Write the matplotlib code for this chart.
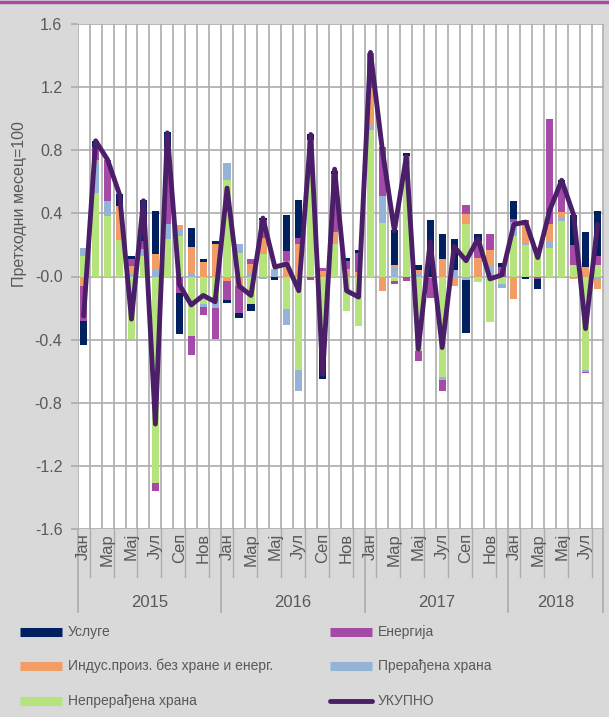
import numpy as np
import matplotlib
matplotlib.use("Agg")
import matplotlib.pyplot as plt
from matplotlib.lines import Line2D
import matplotlib.transforms as mtransforms

plt.rcParams['font.family'] = ['Liberation Sans', 'DejaVu Sans']

# ---------------- data ----------------
years = ["2015", "2016", "2017", "2018"]
months_per_year = [12, 12, 12, 8]
month_names = ["Јан", "Феб", "Мар", "Апр", "Мај", "Јун", "Јул", "Авг", "Сеп", "Окт", "Нов", "Дец"]

usluge = [-0.154, 0.035, 0.0, 0.078, 0.017, 0.254, 0.271, 0.095, -0.258, 0.123, 0.021, 0.017,
          -0.015, -0.032, -0.042, 0.017, -0.02, 0.226, 0.237, 0.04, -0.30, 0.02, 0.021, 0.017,
          0.005, -0.006, 0.222, 0.015, 0.028, 0.356, 0.159, 0.195, -0.338, 0.046, 0.0, 0.025,
          0.112, -0.015, -0.061, 0.0, 0.015, 0.19, 0.222, 0.279]
energija = [-0.216, 0.08, 0.265, 0.0, 0.047, 0.053, -0.053, 0.487, -0.106, -0.123, -0.047, -0.197,
            -0.12, -0.169, 0.032, 0.11, 0.0, 0.063, 0.038, -0.025, 0.017, 0.37, 0.049, 0.121,
            0.222, 0.313, -0.017, -0.03, -0.063, -0.127, -0.068, 0.0, 0.053, 0.106, 0.102, 0.059,
            0.021, 0.01, -0.017, 0.667, 0.19, 0.127, -0.008, 0.063]
indus = [-0.063, 0.015, 0.0, 0.218, 0.047, 0.0, 0.102, 0.0, 0.032, 0.169, 0.091, 0.207,
         -0.03, -0.06, 0.063, 0.106, 0.0, 0.10, 0.207, 0.12, 0.038, 0.078, 0.049, 0.028,
         0.233, -0.089, 0.015, 0.05, 0.025, -0.01, 0.112, -0.06, 0.063, 0.116, 0.095, 0.0,
         -0.142, 0.133, 0.02, 0.116, 0.032, -0.017, 0.063, -0.057]
preradjena = [0.049, 0.197, 0.095, 0.0, 0.017, 0.042, 0.042, 0.095, 0.038, 0.017, -0.021, -0.072,
              0.106, 0.059, 0.017, -0.015, 0.045, -0.10, -0.135, 0.07, 0.0, 0.0, 0.0, 0.0,
              0.028, 0.169, 0.055, 0.0, 0.017, 0.0, -0.017, 0.04, -0.021, 0.0, 0.07, -0.025,
              0.091, 0.015, 0.0, 0.036, 0.027, 0.0, -0.013, -0.021]
neprer = [0.133, 0.529, 0.381, 0.229, -0.396, 0.133, -1.306, 0.239, 0.254, -0.375, -0.174, -0.127,
          0.614, 0.148, -0.174, 0.14, 0.0, -0.205, -0.593, 0.673, -0.35, 0.203, -0.22, -0.311,
          0.931, 0.339, -0.03, 0.715, -0.47, 0.0, -0.639, 0.0, 0.334, -0.036, -0.286, -0.047,
          0.254, 0.197, 0.165, 0.182, 0.349, 0.07, -0.593, 0.07]
ukupno = [-0.25, 0.86, 0.74, 0.52, -0.27, 0.48, -0.935, 0.91, -0.05, -0.18, -0.12, -0.16,
          0.56, -0.06, -0.12, 0.37, 0.06, 0.08, -0.09, 0.90, -0.62, 0.68, -0.09, -0.13,
          1.42, 0.80, 0.29, 0.76, -0.46, 0.22, -0.45, 0.19, 0.10, 0.24, -0.015, 0.01,
          0.33, 0.345, 0.12, 0.42, 0.61, 0.39, -0.33, 0.33]

series_names = ["Услуге", "Енергија", "Индус.произ. без хране и енерг.", "Прерађена храна", "Непрерађена храна"]
line_name = "УКУПНО"
colors = {"Услуге": "#002060", "Енергија": "#A64AA8", "Индус.произ. без хране и енерг.": "#F29C66",
          "Прерађена храна": "#95B3D7", "Непрерађена храна": "#B5E47C"}
line_color = "#4A1E68"

data = {"Услуге": usluge, "Енергија": energija, "Индус.произ. без хране и енерг.": indus,
        "Прерађена храна": preradjena, "Непрерађена храна": neprer}

# ---------------- figure ----------------
W, H = 609, 717
fig = plt.figure(figsize=(W / 100, H / 100), dpi=100, facecolor="#D9D9D9")
L, R, T, B = 77.7, 603.5, 24, 529
ax = fig.add_axes([L / W, 1 - B / H, (R - L) / W, (B - T) / H])
ax.set_facecolor("white")

n = sum(months_per_year)
x = np.arange(n)
grid_c = "#ACACAC"
txt_c = "#595959"

# stacking order from the zero line outward
stack_order = ["Непрерађена храна", "Прерађена храна", "Индус.произ. без хране и енерг.", "Енергија", "Услуге"]
pos = np.zeros(n)
neg = np.zeros(n)
for name in stack_order:
    v = np.array(data[name], dtype=float)
    p = np.where(v > 0, v, 0)
    q = np.where(v < 0, v, 0)
    ax.bar(x, p, 0.6, bottom=pos, color=colors[name], zorder=3, linewidth=0)
    ax.bar(x, q, 0.6, bottom=neg, color=colors[name], zorder=3, linewidth=0)
    pos += p
    neg += q

ax.plot(x, ukupno, color=line_color, lw=3.5, zorder=4, solid_joinstyle="round", solid_capstyle="round")

ax.set_xlim(-0.5, n - 0.5)
ax.set_ylim(-1.6, 1.6)
yt = np.round(np.arange(-1.6, 1.61, 0.4), 1)
ax.set_yticks(yt)
ax.set_yticklabels([f"{v:.1f}" for v in yt], fontsize=11.5, color=txt_c)
ax.tick_params(axis="y", length=5, color=grid_c, width=1.2, pad=6)
ax.set_xticks(np.arange(-0.5, n, 1.0), minor=False)
ax.set_xticklabels([])
ax.tick_params(axis="x", length=0)
ax.grid(True, axis="both", color=grid_c, lw=1.2, zorder=0)
for s in ax.spines.values():
    s.set_visible(False)
ax.set_axisbelow(True)

# month labels
trans = mtransforms.blended_transform_factory(ax.transData, ax.transAxes)
idx = 0
for yi, (yr, nm) in enumerate(zip(years, months_per_year)):
    for m in range(nm):
        if m % 2 == 0:
            ax.text(idx + m, -0.008, month_names[m], rotation=90, ha="center", va="top",
                    fontsize=12, color=txt_c, transform=trans)
    ax.text(idx + (nm - 1) / 2, -0.145, yr, ha="center", va="center", fontsize=12,
            color=txt_c, transform=trans)
    ax.plot([idx - 0.5, idx - 0.5], [0, -0.165], color=grid_c, lw=1.2, transform=trans, clip_on=False)
    for m in range(1, nm, 2):
        ax.plot([idx + m - 0.5, idx + m - 0.5], [0, -0.095], color=grid_c, lw=1.0,
                transform=trans, clip_on=False)
    idx += nm
ax.plot([n - 0.5, n - 0.5], [0, -0.165], color=grid_c, lw=1.2, transform=trans, clip_on=False)

# y label
fig.text(20 / W, 1 - 204 / H, "Претходни месец=100", rotation=90, ha="center", va="center",
         fontsize=11.5, color=txt_c)

# top purple rule
fig.add_artist(Line2D([0, 1], [1 - 1.5 / H, 1 - 1.5 / H], transform=fig.transFigure, color="#A64AA8", lw=2.5))

# legend (manual, two columns)
entries = [("Услуге", 20, 632), ("Енергија", 330, 632),
           ("Индус.произ. без хране и енерг.", 20, 666), ("Прерађена храна", 330, 666),
           ("Непрерађена храна", 20, 701), (line_name, 330, 701)]
for name, px, py in entries:
    if name == line_name:
        fig.add_artist(Line2D([px / W, (px + 42) / W], [1 - py / H] * 2, transform=fig.transFigure,
                              color=line_color, lw=3.5, solid_capstyle="round"))
    else:
        fig.add_artist(Line2D([px / W, (px + 42) / W], [1 - py / H] * 2, transform=fig.transFigure,
                              color=colors[name], lw=6.5, solid_capstyle="butt"))
    fig.text((px + 48) / W, 1 - py / H, name, ha="left", va="center", fontsize=10, color=txt_c)

fig.savefig("out.png", dpi=100, facecolor=fig.get_facecolor())
